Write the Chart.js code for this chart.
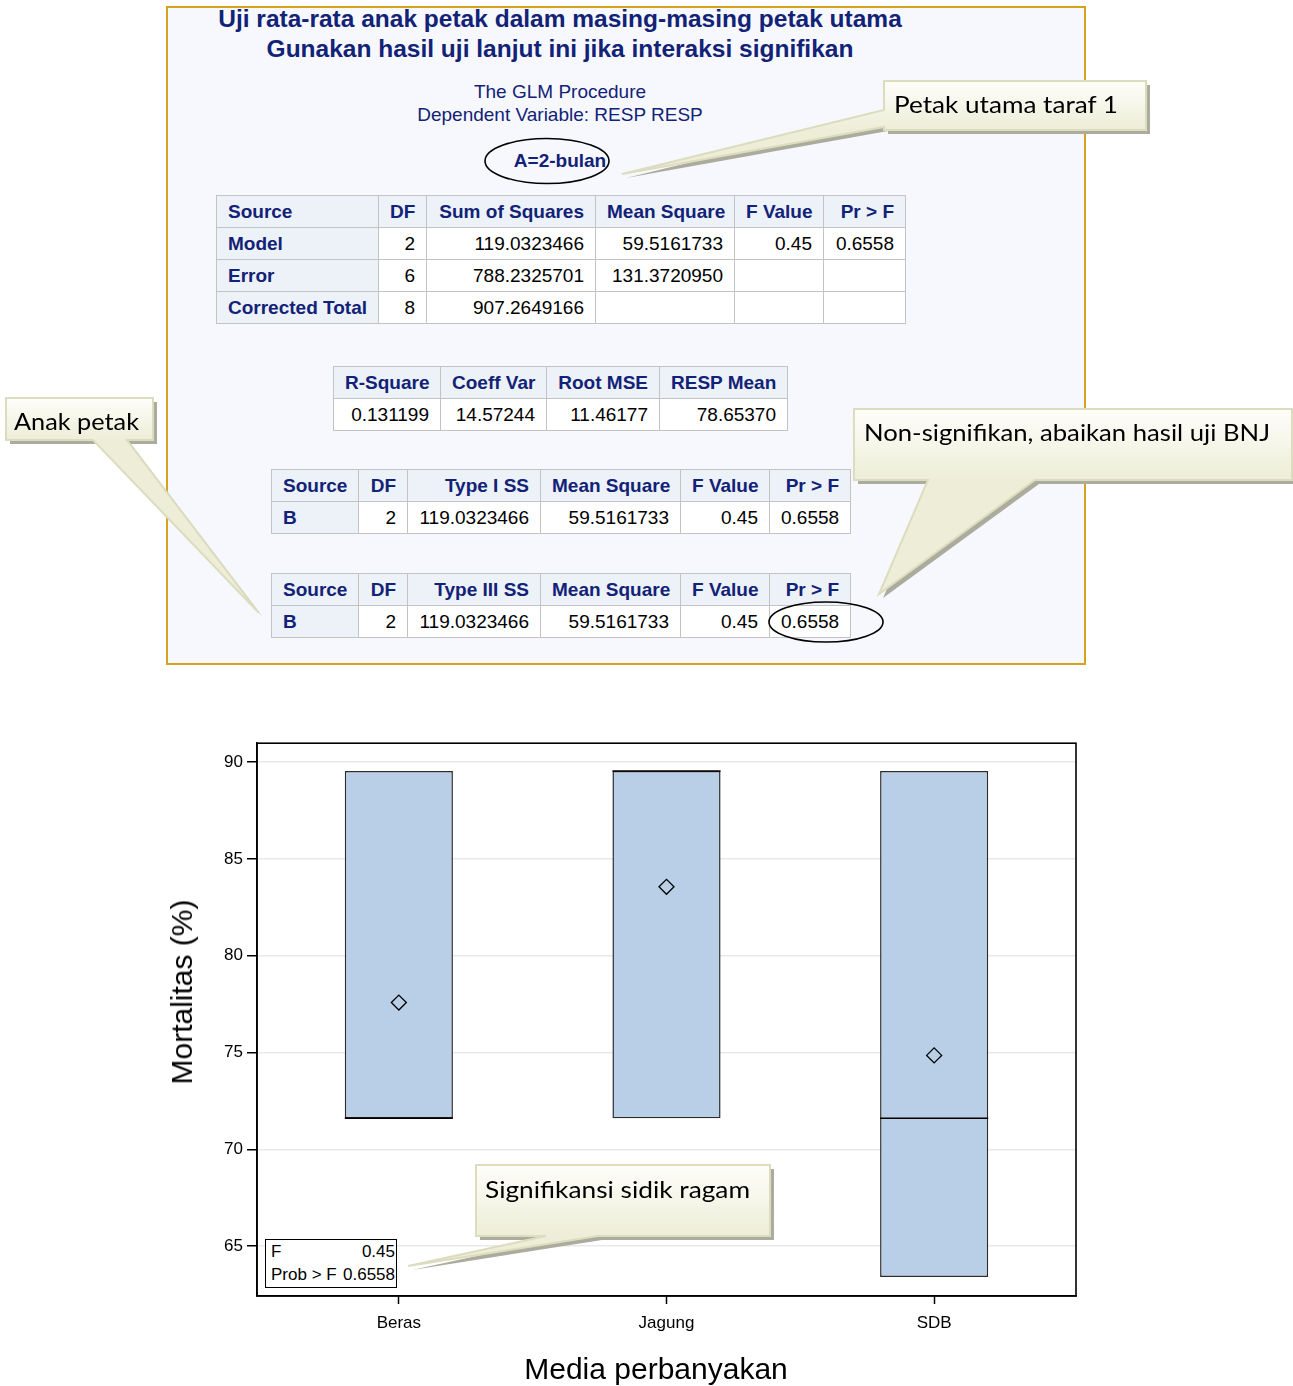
<!DOCTYPE html>
<html><head><meta charset="utf-8">
<script src="https://cdn.jsdelivr.net/npm/chart.js@4/dist/chart.umd.min.js"></script>
<style>
html,body{margin:0;padding:0;background:#fff;}
body{width:1293px;height:1386px;overflow:hidden;position:relative;font-family:'Liberation Sans',Arial,sans-serif;}
#panel{position:absolute;left:166px;top:6px;width:916px;height:655px;border:2px solid #D6A31C;background:#F7F8FD;}
.t{position:absolute;left:0;width:1120px;text-align:center;color:#112277;white-space:nowrap;}
.title{font-weight:bold;font-size:24.5px;height:30px;line-height:30px;}
.sub{font-size:19px;height:24px;line-height:24px;}
table.sas{position:absolute;border-collapse:collapse;table-layout:fixed;font-size:19px;}
table.sas td,table.sas th{border:1px solid #C3C3C3;padding:0 11px;height:32px;white-space:nowrap;overflow:hidden;box-sizing:border-box;}
table.sas th{background:#EDF1F8;color:#112277;font-weight:bold;text-align:right;}
table.sas th.l{text-align:left;}
table.sas td{background:#fff;color:#000;text-align:right;}
#chartWrap{position:absolute;left:160px;top:729px;width:940px;height:657px;}
.axt{position:absolute;font-size:30px;color:#000;white-space:nowrap;line-height:32px;}
#inset{position:absolute;left:265px;top:1239px;width:132px;height:49px;border:1px solid #000;background:#fff;box-sizing:border-box;font-size:17px;color:#000;}
#inset div{display:flex;justify-content:space-between;height:23px;line-height:24px;padding:0 1px 0 5px;}
#overlay{position:absolute;left:0;top:0;}
</style>
</head>
<body>
<div id="panel"></div>
<div class="t title" style="top:4px">Uji rata-rata anak petak dalam masing-masing petak utama</div>
<div class="t title" style="top:34px">Gunakan hasil uji lanjut ini jika interaksi signifikan</div>
<div class="t sub" style="top:80px">The GLM Procedure</div>
<div class="t sub" style="top:103px">Dependent Variable: RESP RESP</div>
<div class="t sub" style="top:149px;font-weight:bold">A=2-bulan</div>
<div id="tables"></div>

<div id="chartWrap"><canvas id="c" width="940" height="657"></canvas></div>
<div class="axt" style="left:182px;top:992px;transform:translate(-50%,-50%) rotate(-90deg);">Mortalitas (%)</div>
<div class="axt" style="left:656px;top:1369px;transform:translate(-50%,-50%);">Media perbanyakan</div>
<div id="inset"><div><span>F</span><span>0.45</span></div><div><span>Prob &gt; F</span><span>0.6558</span></div></div>

<svg id="overlay" width="1293" height="1386" xmlns="http://www.w3.org/2000/svg">
<defs>
<linearGradient id="g1" gradientUnits="userSpaceOnUse" x1="0" y1="81" x2="0" y2="130"><stop offset="0" stop-color="#FEFEFA"/><stop offset="1" stop-color="#EDEDD8"/></linearGradient>
<linearGradient id="g2" gradientUnits="userSpaceOnUse" x1="0" y1="398" x2="0" y2="440"><stop offset="0" stop-color="#FEFEFA"/><stop offset="1" stop-color="#EDEDD8"/></linearGradient>
<linearGradient id="g3" gradientUnits="userSpaceOnUse" x1="0" y1="409" x2="0" y2="480"><stop offset="0" stop-color="#FEFEFA"/><stop offset="1" stop-color="#EDEDD8"/></linearGradient>
<linearGradient id="g4" gradientUnits="userSpaceOnUse" x1="0" y1="1165" x2="0" y2="1236"><stop offset="0" stop-color="#FEFEFA"/><stop offset="1" stop-color="#EDEDD8"/></linearGradient>
</defs>
<ellipse cx="547" cy="161" rx="62" ry="22.5" fill="none" stroke="#000" stroke-width="1.6"/>
<ellipse cx="826" cy="622" rx="57" ry="20" fill="none" stroke="#000" stroke-width="1.6"/>
<g>
<path d="M884,81 H1146 V130 H884 V127 L622,174 L884,110 Z" transform="translate(4,4)" fill="#ABAB9E"/>
<path d="M884,81 H1146 V130 H884 V127 L622,174 L884,110 Z" fill="url(#g1)" stroke="#DCDCBE" stroke-width="2"/>
<text x="894" y="113" font-family="Lato" font-size="24" fill="#000" textLength="224" lengthAdjust="spacingAndGlyphs">Petak utama taraf 1</text>
</g>
<g>
<path d="M6,398 H153 V440 H127 L258,612 L93,440 H6 Z" transform="translate(4,4)" fill="#ABAB9E"/>
<path d="M6,398 H153 V440 H127 L258,612 L93,440 H6 Z" fill="url(#g2)" stroke="#DCDCBE" stroke-width="2"/>
<text x="14" y="430" font-family="Lato" font-size="24" fill="#000" textLength="125" lengthAdjust="spacingAndGlyphs">Anak petak</text>
</g>
<g>
<path d="M854,409 H1292 V480 H1035 L879,594 L928,480 H854 Z" transform="translate(4,4)" fill="#ABAB9E"/>
<path d="M854,409 H1292 V480 H1035 L879,594 L928,480 H854 Z" fill="url(#g3)" stroke="#DCDCBE" stroke-width="2"/>
<text x="864" y="441" font-family="Lato" font-size="24" fill="#000" textLength="406" lengthAdjust="spacingAndGlyphs">Non-signifikan, abaikan hasil uji BNJ</text>
</g>
<g>
<path d="M476,1165 H770 V1236 H598 L408,1266 L546,1236 H476 Z" transform="translate(4,4)" fill="#ABAB9E"/>
<path d="M476,1165 H770 V1236 H598 L408,1266 L546,1236 H476 Z" fill="url(#g4)" stroke="#DCDCBE" stroke-width="2"/>
<text x="485" y="1198" font-family="Lato" font-size="24" fill="#000" textLength="265" lengthAdjust="spacingAndGlyphs">Signifikansi sidik ragam</text>
</g>
</svg>

<script>
// ---- SAS output tables ----
const anovaHeaders = ['Source','DF','Sum of Squares','Mean Square','F Value','Pr > F'];
const anovaSources = ['Model','Error','Corrected Total'];
const anovaDF = ['2','6','8'];
const anovaSS = ['119.0323466','788.2325701','907.2649166'];
const anovaMS = ['59.5161733','131.3720950',''];
const anovaF = ['0.45','',''];
const anovaP = ['0.6558','',''];
const fitHeaders = ['R-Square','Coeff Var','Root MSE','RESP Mean'];
const fitValues = ['0.131199','14.57244','11.46177','78.65370'];
const type1Headers = ['Source','DF','Type I SS','Mean Square','F Value','Pr > F'];
const type3Headers = ['Source','DF','Type III SS','Mean Square','F Value','Pr > F'];
const effectRow = ['B','2','119.0323466','59.5161733','0.45','0.6558'];

// ---- Box plot data (Mortalitas %) ----
const categories = ['Beras','Jagung','SDB'];
const boxLow = [71.6, 71.6, 63.4];      // Q1 (= min)
const boxHigh = [89.54, 89.54, 89.54];  // Q3 (= max)
const medians = [71.6, 89.54, 71.6];
const means = [77.58, 83.56, 74.85];
const yTicks = [65, 70, 75, 80, 85, 90];

function makeTable(left, top, widths, rows, firstColHeader){
  const t = document.createElement('table');
  t.className = 'sas';
  t.style.left = left + 'px'; t.style.top = top + 'px';
  t.style.width = widths.reduce((a,b)=>a+b,0) + 'px';
  const cg = document.createElement('colgroup');
  widths.forEach(w=>{const c=document.createElement('col');c.style.width=w+'px';cg.appendChild(c);});
  t.appendChild(cg);
  rows.forEach((r,ri)=>{
    const tr = document.createElement('tr');
    r.forEach((v,ci)=>{
      const isH = ri===0 || (firstColHeader && ci===0);
      const cell = document.createElement(isH?'th':'td');
      cell.textContent = v;
      if (firstColHeader && ci===0) cell.className='l';
      tr.appendChild(cell);
    });
    t.appendChild(tr);
  });
  document.getElementById('tables').appendChild(t);
}
const anovaRows = [anovaHeaders].concat(anovaSources.map((s,i)=>[s,anovaDF[i],anovaSS[i],anovaMS[i],anovaF[i],anovaP[i]]));
makeTable(216,195,[162,48,169,139,89,82],anovaRows,true);
makeTable(333,366,[107,106,113,128],[fitHeaders,fitValues],false);
makeTable(271,469,[87,49,133,140,89,81],[type1Headers,effectRow],true);
makeTable(271,573,[87,49,133,140,89,81],[type3Headers,effectRow],true);

// ---- Chart ----
const medianPlugin = {
  id:'medianLines',
  afterDatasetsDraw(chart){
    const meta = chart.getDatasetMeta(0);
    const ys = chart.scales.y, ctx = chart.ctx;
    ctx.save(); ctx.strokeStyle='#000'; ctx.lineWidth=1.6;
    meta.data.forEach((bar,i)=>{
      const p = bar.getProps(['x','width'], true);
      const py = ys.getPixelForValue(medians[i]);
      ctx.beginPath(); ctx.moveTo(p.x-p.width/2, py); ctx.lineTo(p.x+p.width/2, py); ctx.stroke();
    });
    ctx.restore();
  }
};
const framePlugin = {
  id:'frame',
  beforeDatasetsDraw(chart){
    const a = chart.chartArea, ctx = chart.ctx;
    ctx.save(); ctx.strokeStyle='#000'; ctx.lineWidth=1.6;
    ctx.strokeRect(a.left, a.top, a.right-a.left, a.bottom-a.top);
    ctx.restore();
  }
};
const tickFont = {family:"'Liberation Sans', Arial, sans-serif", size:17};
new Chart(document.getElementById('c'), {
  type:'bar',
  data:{datasets:[
    {type:'bar', data: categories.map((c,i)=>({x:i+1, y:[boxLow[i], boxHigh[i]]})),
     backgroundColor:'#B9CFE7', borderColor:'#2b2b2b', borderWidth:1.5, borderSkipped:false,
     barPercentage:0.404, categoryPercentage:1, order:2},
    {type:'scatter', data: categories.map((c,i)=>({x:i+1, y:means[i]})),
     pointStyle:'rectRot', pointRadius:7.5, pointBorderWidth:1.3, pointBorderColor:'#000',
     pointBackgroundColor:'rgba(0,0,0,0)', order:1}
  ]},
  options:{
    responsive:false, animation:false,
    layout:{padding:{left:0, top:7, right:24, bottom:0}},
    plugins:{legend:{display:false}, tooltip:{enabled:false}},
    scales:{
      x:{type:'linear', min:0.47, max:3.53, offset:false,
         afterBuildTicks:s=>{s.ticks = categories.map((c,i)=>({value:i+1}));},
         afterFit:s=>{s.height=90;},
         grid:{offset:false, drawOnChartArea:false, tickLength:8, tickColor:'#000', tickWidth:1.5},
         border:{color:'#000', width:1.6},
         ticks:{font:tickFont, color:'#000', padding:9, maxRotation:0, callback:(v)=>categories[Math.round(v)-1]}},
      y:{type:'linear', min:62.42, max:90.98,
         afterBuildTicks:s=>{s.ticks = yTicks.map(v=>({value:v}));},
         afterFit:s=>{s.width=97;},
         grid:{color:'#E9E9E9', lineWidth:1.5, tickLength:10, tickColor:'#000', tickWidth:1.5},
         border:{color:'#000', width:1.6},
         ticks:{font:tickFont, color:'#000', padding:4}}
    }
  },
  plugins:[medianPlugin, framePlugin]
});
</script>
</body></html>
